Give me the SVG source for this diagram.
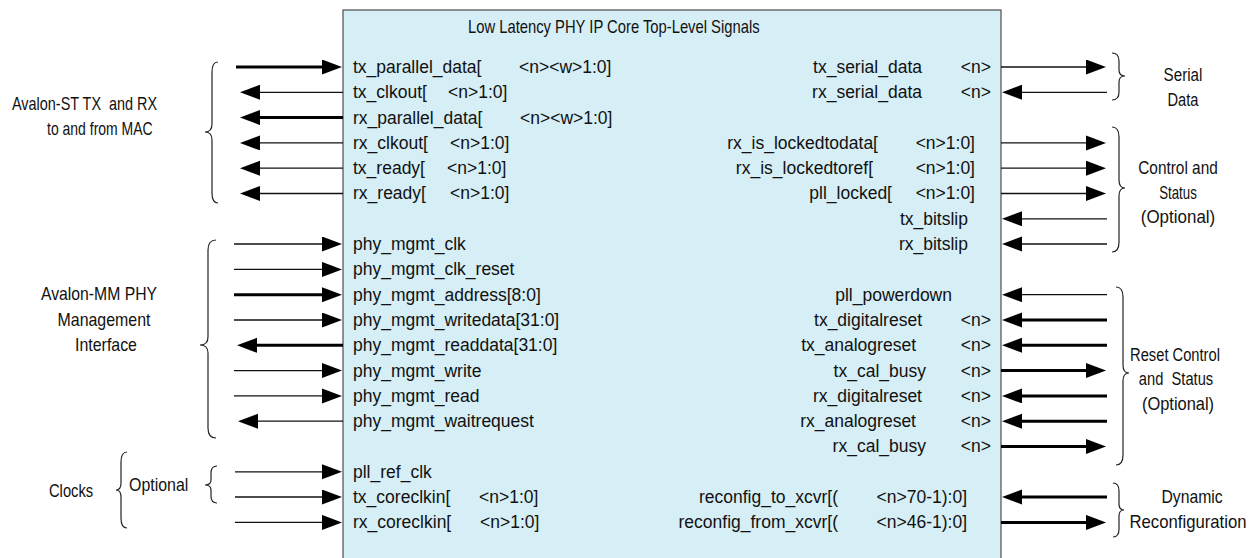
<svg xmlns="http://www.w3.org/2000/svg" width="1255" height="558" viewBox="0 0 1255 558">
<style>
text{font-family:"Liberation Sans",Arial,sans-serif;font-size:17.5px;fill:#111}
.e{text-anchor:end}
.m{text-anchor:middle}
.thin{stroke:#111;stroke-width:1.3;fill:none}
.thick{stroke:#000;stroke-width:3;fill:none}
.brace{stroke:#222;stroke-width:1.2;fill:none}
</style>
<defs>
<marker id="ah" markerUnits="userSpaceOnUse" markerWidth="21" markerHeight="16" refX="1" refY="7.5" orient="auto">
<path d="M0,0 L20,7.5 L0,15 Z" fill="#000"/>
</marker>
</defs>
<rect width="1255" height="558" fill="#fff"/>

<g id="core">
<rect x="343" y="10" width="658" height="560" fill="#D6EEF6" stroke="#4d4d4d" stroke-width="1.2"/>
<text transform="translate(468,33) scale(0.845,1)">Low Latency PHY IP Core Top-Level Signals</text>
<g id="left-signals">
<text x="353" y="73">tx_parallel_data[</text><text x="519" y="73">&lt;n&gt;&lt;w&gt;1:0]</text>
<text x="353" y="98">tx_clkout[</text><text x="448" y="98">&lt;n&gt;1:0]</text>
<text x="353" y="124">rx_parallel_data[</text><text x="520" y="124">&lt;n&gt;&lt;w&gt;1:0]</text>
<text x="353" y="149">rx_clkout[</text><text x="450" y="149">&lt;n&gt;1:0]</text>
<text x="353" y="174">tx_ready[</text><text x="447" y="174">&lt;n&gt;1:0]</text>
<text x="353" y="199">rx_ready[</text><text x="450" y="199">&lt;n&gt;1:0]</text>
<text x="353" y="250">phy_mgmt_clk</text>
<text x="353" y="275">phy_mgmt_clk_reset</text>
<text x="353" y="301">phy_mgmt_address[8:0]</text>
<text x="353" y="326">phy_mgmt_writedata[31:0]</text>
<text x="353" y="351">phy_mgmt_readdata[31:0]</text>
<text x="353" y="377">phy_mgmt_write</text>
<text x="353" y="402">phy_mgmt_read</text>
<text x="353" y="427">phy_mgmt_waitrequest</text>
<text x="353" y="478">pll_ref_clk</text>
<text x="353" y="503">tx_coreclkin[</text><text x="479" y="503">&lt;n&gt;1:0]</text>
<text x="353" y="528">rx_coreclkin[</text><text x="480" y="528">&lt;n&gt;1:0]</text>
</g>
<g id="right-signals">
<text class="e" x="922" y="73">tx_serial_data</text><text class="e" x="991" y="73">&lt;n&gt;</text>
<text class="e" x="922" y="98">rx_serial_data</text><text class="e" x="991" y="98">&lt;n&gt;</text>
<text class="e" x="878" y="149">rx_is_lockedtodata[</text><text class="e" x="975" y="149">&lt;n&gt;1:0]</text>
<text class="e" x="873" y="174">rx_is_lockedtoref[</text><text class="e" x="975" y="174">&lt;n&gt;1:0]</text>
<text class="e" x="892" y="199">pll_locked[</text><text class="e" x="975" y="199">&lt;n&gt;1:0]</text>
<text class="e" x="968" y="225">tx_bitslip</text>
<text class="e" x="968" y="250">rx_bitslip</text>
<text class="e" x="952" y="301">pll_powerdown</text>
<text class="e" x="922" y="326">tx_digitalreset</text><text class="e" x="991" y="326">&lt;n&gt;</text>
<text class="e" x="916" y="351">tx_analogreset</text><text class="e" x="991" y="351">&lt;n&gt;</text>
<text class="e" x="926" y="377">tx_cal_busy</text><text class="e" x="991" y="377">&lt;n&gt;</text>
<text class="e" x="922" y="402">rx_digitalreset</text><text class="e" x="991" y="402">&lt;n&gt;</text>
<text class="e" x="916" y="427">rx_analogreset</text><text class="e" x="991" y="427">&lt;n&gt;</text>
<text class="e" x="926" y="452">rx_cal_busy</text><text class="e" x="991" y="452">&lt;n&gt;</text>
<text class="e" x="838" y="503">reconfig_to_xcvr[(</text><text class="e" x="967" y="503">&lt;n&gt;70-1):0]</text>
<text class="e" x="838" y="528">reconfig_from_xcvr[(</text><text class="e" x="967" y="528">&lt;n&gt;46-1):0]</text>
</g>
</g>

<g id="connectors">
<path class="thick" d="M236,67 H323" marker-end="url(#ah)"/>
<path class="thin" d="M343,92.3 H259" marker-end="url(#ah)"/>
<path class="thick" d="M343,117.6 H259" marker-end="url(#ah)"/>
<path class="thin" d="M343,142.9 H259" marker-end="url(#ah)"/>
<path class="thin" d="M343,168.2 H259" marker-end="url(#ah)"/>
<path class="thin" d="M343,193.5 H259" marker-end="url(#ah)"/>
<path class="thin" d="M234,244 H323" marker-end="url(#ah)"/>
<path class="thin" d="M234,269.4 H323" marker-end="url(#ah)"/>
<path class="thick" d="M234,294.7 H323" marker-end="url(#ah)"/>
<path class="thin" d="M234,320 H323" marker-end="url(#ah)"/>
<path class="thick" d="M343,345.3 H256" marker-end="url(#ah)"/>
<path class="thin" d="M234,370.6 H323" marker-end="url(#ah)"/>
<path class="thin" d="M234,395.9 H323" marker-end="url(#ah)"/>
<path class="thin" d="M343,421.2 H257" marker-end="url(#ah)"/>
<path class="thin" d="M235,471.8 H323" marker-end="url(#ah)"/>
<path class="thin" d="M235,497 H323" marker-end="url(#ah)"/>
<path class="thin" d="M235,522.4 H323" marker-end="url(#ah)"/>
<path class="thin" d="M1001,67 H1087" marker-end="url(#ah)"/>
<path class="thin" d="M1107,92.3 H1021" marker-end="url(#ah)"/>
<path class="thin" d="M1001,142.9 H1087" marker-end="url(#ah)"/>
<path class="thin" d="M1001,168.2 H1087" marker-end="url(#ah)"/>
<path class="thin" d="M1001,193.5 H1087" marker-end="url(#ah)"/>
<path class="thin" d="M1107,218.8 H1021" marker-end="url(#ah)"/>
<path class="thin" d="M1107,244 H1021" marker-end="url(#ah)"/>
<path class="thin" d="M1107,294.7 H1021" marker-end="url(#ah)"/>
<path class="thick" d="M1107,320 H1021" marker-end="url(#ah)"/>
<path class="thick" d="M1107,345.3 H1021" marker-end="url(#ah)"/>
<path class="thick" d="M1001,370.6 H1087" marker-end="url(#ah)"/>
<path class="thick" d="M1107,395.9 H1021" marker-end="url(#ah)"/>
<path class="thick" d="M1107,421.2 H1021" marker-end="url(#ah)"/>
<path class="thick" d="M1001,446.5 H1087" marker-end="url(#ah)"/>
<path class="thick" d="M1107,497 H1021" marker-end="url(#ah)"/>
<path class="thick" d="M1001,522.4 H1087" marker-end="url(#ah)"/>
</g>

<g id="braces">
<path class="brace" d="M218,62 Q212,62 212,72 L212,124 Q212,132 205,132 Q212,132 212,140 L212,193 Q212,203 218,203"/>
<path class="brace" d="M216,240 Q208,240 208,250 L208,337 Q208,345 200,345 Q208,345 208,353 L208,428 Q208,438 216,438"/>
<path class="brace" d="M127,452 Q121,452 121,462 L121,483 Q121,490 116,490 Q121,490 121,497 L121,518 Q121,528 127,528"/>
<path class="brace" d="M217,466 Q211,466 211,473 L211,480 Q211,485 205,485 Q211,485 211,490 L211,496 Q211,503 217,503"/>
<path class="brace" d="M1112,53 Q1119,53 1119,61 L1119,70 Q1119,76 1125,76 Q1119,76 1119,82 L1119,92 Q1119,100 1112,100"/>
<path class="brace" d="M1112,127 Q1119,127 1119,137 L1119,180 Q1119,188 1125,188 Q1119,188 1119,196 L1119,242 Q1119,252 1112,252"/>
<path class="brace" d="M1116,287 Q1123,287 1123,297 L1123,365 Q1123,373 1129,373 Q1123,373 1123,381 L1123,455 Q1123,465 1116,465"/>
<path class="brace" d="M1113,483 Q1119,483 1119,491 L1119,504 Q1119,510 1124,510 Q1119,510 1119,516 L1119,529 Q1119,537 1113,537"/>
</g>

<g id="group-labels">
<text transform="translate(12,110) scale(0.825,1)" xml:space="preserve">Avalon-ST TX  and RX</text>
<text transform="translate(47,135) scale(0.8,1)">to and from MAC</text>
<text class="m" transform="translate(99,300) scale(0.9,1)">Avalon-MM PHY</text>
<text class="m" transform="translate(104,326) scale(0.91,1)">Management</text>
<text class="m" transform="translate(106,351) scale(0.91,1)">Interface</text>
<text transform="translate(49,497) scale(0.84,1)">Clocks</text>
<text transform="translate(129,491) scale(0.91,1)">Optional</text>
<text class="m" transform="translate(1183,81) scale(0.87,1)">Serial</text>
<text class="m" transform="translate(1183,106) scale(0.84,1)">Data</text>
<text class="m" transform="translate(1178,174) scale(0.88,1)">Control and</text>
<text class="m" transform="translate(1178,199) scale(0.76,1)">Status</text>
<text class="m" transform="translate(1178,223) scale(0.97,1)">(Optional)</text>
<text class="m" transform="translate(1175,361) scale(0.84,1)">Reset Control</text>
<text class="m" transform="translate(1176,385) scale(0.84,1)" xml:space="preserve">and  Status</text>
<text class="m" transform="translate(1178,410) scale(0.94,1)">(Optional)</text>
<text class="m" transform="translate(1192,503) scale(0.9,1)">Dynamic</text>
<text class="m" transform="translate(1188,528) scale(0.955,1)">Reconfiguration</text>
</g>
</svg>
